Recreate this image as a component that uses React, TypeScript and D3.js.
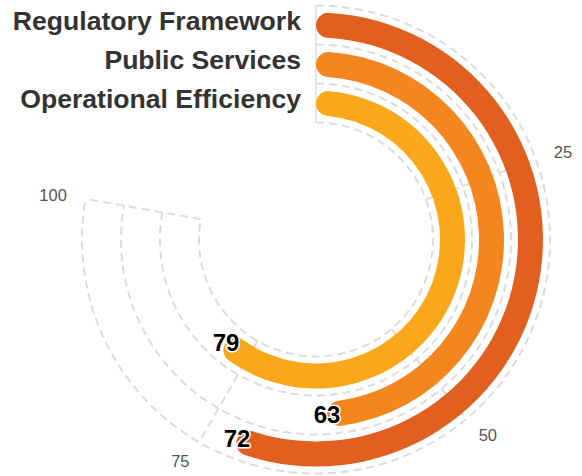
import React from "react";
import * as d3 from "d3";

const categories = ["Operational Efficiency", "Public Services", "Regulatory Framework"];
const values = [79, 63, 72];
const colors = ["#FAA81B", "#F4861F", "#E1601F"];
const angleTicks = [0, 25, 50, 75, 100];
const angleMax = 100;

const W = 582;
const H = 476;
const cx = 316;
const cy = 239.5;
const rInner = 117;
const rOuter = 234;
const barW = 25;
const spanDeg = 280;

export default function App() {
  const angle = d3.scaleLinear().domain([0, angleMax]).range([0, (spanDeg * Math.PI) / 180]);
  const radius = d3.scaleBand<string>().domain(categories).range([rInner, rOuter]).paddingInner(0).paddingOuter(0);
  const bw = radius.bandwidth();
  const boundaries = d3.range(categories.length + 1).map((i) => rInner + i * bw);

  const barArc = d3.arc<any>().cornerRadius(barW / 2);

  const pt = (a: number, r: number): [number, number] => [cx + r * Math.sin(a), cy - r * Math.cos(a)];

  return (
    <svg width={W} height={H} style={{ position: "absolute", left: 0, top: 0 }} xmlns="http://www.w3.org/2000/svg">
      <rect width={W} height={H} fill="#ffffff" />
      <g>
        {boundaries.map((r, i) => {
          const a0 = angle(0);
          const a1 = angle(angleMax);
          const path = d3.path();
          path.arc(cx, cy, r, a0 - Math.PI / 2, a1 - Math.PI / 2, false);
          return (
            <path key={"ga" + i} d={path.toString()} fill="none" stroke="#dcdcdc" strokeWidth={2} strokeDasharray="8,5" />
          );
        })}
        {angleTicks.map((t, i) => {
          const a = angle(t);
          const [x1, y1] = pt(a, rInner);
          const [x2, y2] = pt(a, rOuter);
          return (
            <line
              key={"gl" + i}
              x1={x1}
              y1={y1}
              x2={x2}
              y2={y2}
              stroke="#dcdcdc"
              strokeWidth={t === 0 ? 1.5 : 2}
              strokeDasharray={t === 0 ? undefined : "8,5"}
            />
          );
        })}
      </g>
      <g>
        {categories.map((c, i) => {
          const rc = (radius(c) as number) + bw / 2;
          const d = barArc({
            innerRadius: rc - barW / 2,
            outerRadius: rc + barW / 2,
            startAngle: angle(0),
            endAngle: angle(values[i]),
          }) as string;
          return <path key={"b" + i} d={d} transform={`translate(${cx},${cy})`} fill={colors[i]} />;
        })}
      </g>
      <g fontFamily="'Liberation Sans', Arial, sans-serif">
        {categories.map((c, i) => {
          const rc = (radius(c) as number) + bw / 2;
          return (
            <text
              key={"cl" + i}
              x={cx - 15}
              y={cy - rc + 5}
              textAnchor="end"
              fontSize={26.6}
              fontWeight="bold"
              fill="#333333"
            >
              {c}
            </text>
          );
        })}
        {categories.map((c, i) => {
          const rc = (radius(c) as number) + bw / 2;
          const [x, y] = pt(angle(values[i]), rc);
          return (
            <text
              key={"vl" + i}
              x={x}
              y={y}
              textAnchor="middle"
              dominantBaseline="central"
              fontSize={24}
              fontWeight="bold"
              fill="#000000"
              stroke="#ffffff"
              strokeWidth={3}
              paintOrder="stroke"
              strokeLinejoin="round"
            >
              {values[i]}
            </text>
          );
        })}
        {angleTicks
          .filter((t) => t > 0)
          .map((t, i) => {
            const a = angle(t);
            const s = Math.sin(a);
            const co = Math.cos(a);
            const [x, y] = pt(a, 253);
            const anchor = s > 0.3 ? "start" : s < -0.3 ? "end" : "middle";
            const base = co > 0.4 ? "text-after-edge" : co < -0.4 ? "hanging" : "central";
            const dy = co < -0.4 ? -4 : -1;
            return (
              <text
                key={"tl" + i}
                x={x}
                y={y + dy}
                textAnchor={anchor}
                dominantBaseline={base}
                fontSize={16.5}
                fill="#555555"
              >
                {String(t)}
              </text>
            );
          })}
      </g>
    </svg>
  );
}
